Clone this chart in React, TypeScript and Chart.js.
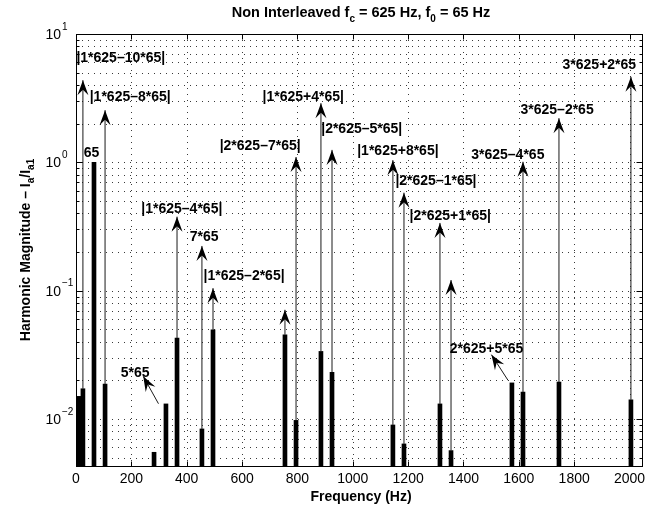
import React, { useEffect, useRef } from "react";
import { Chart, registerables } from "chart.js";

Chart.register(...registerables);

const FONT = "'Liberation Sans', Arial, Helvetica, sans-serif";

// Spectral lines: frequency (Hz) and normalised magnitude I_a / I_a1
const FREQS = [10, 25, 65, 105, 282, 325, 365, 455, 495, 755, 795, 885, 925, 1145, 1185, 1315, 1355, 1575, 1615, 1745, 2005];
const MAGNITUDES = [0.015, 0.0172, 1.0, 0.0187, 0.0055, 0.0131, 0.0427, 0.00836, 0.0495, 0.0453, 0.00975, 0.0336, 0.0231, 0.00898, 0.00639, 0.0131, 0.00567, 0.0191, 0.0162, 0.0194, 0.0141];

// Axis limits and ticks
const X_MIN = 0;
const X_MAX = 2045;
const Y_MIN = 0.0043;
const Y_MAX = 10;
const X_TICKS = [0, 200, 400, 600, 800, 1000, 1200, 1400, 1600, 1800, 2000];
const Y_DECADES = [-2, -1, 0, 1];

// Vertical arrows: rise from the top of the line at ARROW_FREQS up to ARROW_TIPS
const ARROW_FREQS = [25, 105, 365, 455, 495, 755, 795, 885, 925, 1145, 1185, 1315, 1355, 1615, 1745, 2005];
const ARROW_TIPS = [4.37, 2.55, 0.377, 0.223, 0.1046, 0.0709, 1.1, 2.89, 1.25, 1.04, 0.58, 0.337, 0.121, 1.01, 2.21, 4.64];

// Slanted arrows: [Hz, magnitude] of tail and head
const SLANT_TAILS = [[298, 0.01315], [1561, 0.02]];
const SLANT_HEADS = [[243, 0.0215], [1501, 0.0317]];

// Text labels: left edge (Hz) and vertical centre (magnitude)
const LABEL_TEXTS = [
  "|1*625\u201310*65|", "|1*625\u20138*65|", "65", "|1*625\u20134*65|", "7*65", "|1*625\u20132*65|",
  "|2*625\u20137*65|", "|1*625+4*65|", "|2*625\u20135*65|", "|1*625+8*65|", "|2*625\u20131*65|",
  "|2*625+1*65|", "2*625+5*65", "3*625\u20134*65", "3*625\u20132*65", "3*625+2*65", "5*65",
];
const LABEL_FREQS = [1.4, 49.5, 27.8, 236, 410.7, 461, 519, 674, 886, 1016, 1154, 1205, 1350, 1428, 1606, 1758, 161.5];
const LABEL_LEVELS = [6.48, 3.24, 1.18, 0.433, 0.262, 0.13, 1.34, 3.24, 1.82, 1.23, 0.715, 0.384, 0.0352, 1.14, 2.55, 5.71, 0.0228];

type Seg = { t: string; dy?: number; size?: number };

function drawSegments(ctx: CanvasRenderingContext2D, segs: Seg[], x: number, y: number, align: string, weight: string, size: number) {
  let total = 0;
  const widths: number[] = [];
  for (const s of segs) {
    ctx.font = `${weight} ${s.size ?? size}px ${FONT}`;
    const w = ctx.measureText(s.t).width;
    widths.push(w);
    total += w;
  }
  let cx = align === "center" ? x - total / 2 : align === "right" ? x - total : x;
  ctx.textAlign = "left";
  segs.forEach((s, i) => {
    ctx.font = `${weight} ${s.size ?? size}px ${FONT}`;
    ctx.fillText(s.t, cx, y + (s.dy ?? 0));
    cx += widths[i];
  });
}

function drawArrow(ctx: CanvasRenderingContext2D, x0: number, y0: number, x1: number, y1: number) {
  const ang = Math.atan2(y1 - y0, x1 - x0);
  ctx.beginPath();
  ctx.moveTo(x0, y0);
  ctx.lineTo(x1, y1);
  ctx.stroke();
  ctx.save();
  ctx.translate(x1, y1);
  ctx.rotate(ang);
  ctx.beginPath();
  ctx.moveTo(0, 0);
  ctx.lineTo(-15, -5.5);
  ctx.lineTo(-9.5, 0);
  ctx.lineTo(-15, 5.5);
  ctx.closePath();
  ctx.fill();
  ctx.restore();
}

function minorLevels(): number[] {
  const out: number[] = [];
  for (let k = -3; k <= 1; k++) {
    for (let m = 1; m <= 9; m++) {
      const v = m * Math.pow(10, k);
      if (v > Y_MIN && v <= Y_MAX) out.push(v);
    }
  }
  return out;
}

const spectrumDecor = {
  id: "spectrumDecor",
  beforeDatasetsDraw(chart: any) {
    const { ctx, chartArea: a, scales } = chart;
    const xs = scales.x;
    const ys = scales.y;
    ctx.save();
    ctx.strokeStyle = "#3a3a3a";
    ctx.lineWidth = 1;
    ctx.setLineDash([1, 5]);
    for (const t of X_TICKS) {
      if (t <= X_MIN) continue;
      const px = Math.round(xs.getPixelForValue(t)) + 0.5;
      ctx.beginPath();
      ctx.moveTo(px, a.top);
      ctx.lineTo(px, a.bottom);
      ctx.stroke();
    }
    for (const v of minorLevels()) {
      if (v >= Y_MAX) continue;
      const py = Math.round(ys.getPixelForValue(v)) + 0.5;
      ctx.beginPath();
      ctx.moveTo(a.left, py);
      ctx.lineTo(a.right, py);
      ctx.stroke();
    }
    ctx.restore();
  },
  afterDatasetsDraw(chart: any) {
    const { ctx, scales } = chart;
    const xs = scales.x;
    const ys = scales.y;
    ctx.save();
    ctx.strokeStyle = "#1a1a1a";
    ctx.fillStyle = "#000";
    ctx.lineWidth = 1;
    ARROW_FREQS.forEach((f, i) => {
      const base = MAGNITUDES[FREQS.indexOf(f)];
      const px = xs.getPixelForValue(f);
      drawArrow(ctx, px, ys.getPixelForValue(base), px, ys.getPixelForValue(ARROW_TIPS[i]));
    });
    SLANT_TAILS.forEach((tail, i) => {
      const head = SLANT_HEADS[i];
      drawArrow(ctx, xs.getPixelForValue(tail[0]), ys.getPixelForValue(tail[1]), xs.getPixelForValue(head[0]), ys.getPixelForValue(head[1]));
    });
    ctx.textBaseline = "middle";
    ctx.textAlign = "left";
    ctx.font = `bold 14px ${FONT}`;
    LABEL_TEXTS.forEach((txt, i) => {
      ctx.fillText(txt, xs.getPixelForValue(LABEL_FREQS[i]), ys.getPixelForValue(LABEL_LEVELS[i]));
    });
    ctx.restore();
  },
  afterDraw(chart: any) {
    const { ctx, chartArea: a, scales } = chart;
    const xs = scales.x;
    const ys = scales.y;
    ctx.save();
    ctx.strokeStyle = "#000";
    ctx.fillStyle = "#000";
    ctx.lineWidth = 1;
    ctx.setLineDash([]);
    const L = Math.round(a.left) + 0.5;
    const R = Math.round(a.right) + 0.5;
    const T = Math.round(a.top) + 0.5;
    const B = Math.round(a.bottom) + 0.5;
    ctx.strokeRect(L, T, R - L, B - T);

    // x ticks (inside, bottom and top)
    ctx.beginPath();
    for (const t of X_TICKS) {
      const px = Math.round(xs.getPixelForValue(t)) + 0.5;
      ctx.moveTo(px, B);
      ctx.lineTo(px, B - 5);
      ctx.moveTo(px, T);
      ctx.lineTo(px, T + 5);
    }
    // y ticks (inside, left and right)
    for (const v of minorLevels()) {
      const py = Math.round(ys.getPixelForValue(v)) + 0.5;
      const major = Math.abs(Math.log10(v) - Math.round(Math.log10(v))) < 1e-9;
      const len = major ? 6 : 3;
      ctx.moveTo(L, py);
      ctx.lineTo(L + len, py);
      ctx.moveTo(R, py);
      ctx.lineTo(R - len, py);
    }
    ctx.stroke();

    // tick labels
    ctx.textBaseline = "middle";
    ctx.textAlign = "center";
    ctx.font = `14px ${FONT}`;
    for (const t of X_TICKS) {
      ctx.fillText(String(t), xs.getPixelForValue(t), a.bottom + 13);
    }
    for (const d of Y_DECADES) {
      const py = ys.getPixelForValue(Math.pow(10, d));
      ctx.textAlign = "right";
      ctx.font = `14px ${FONT}`;
      ctx.fillText("10", a.left - 15, py + 1);
      ctx.textAlign = "left";
      ctx.font = `10px ${FONT}`;
      ctx.fillText(d < 0 ? "\u2212" + Math.abs(d) : String(d), a.left - 14, py - 7);
    }

    // title
    ctx.textBaseline = "middle";
    const cx = (a.left + a.right) / 2 + 2;
    drawSegments(
      ctx,
      [
        { t: "Non Interleaved f" },
        { t: "c", dy: 6, size: 10 },
        { t: " = 625 Hz, f" },
        { t: "0", dy: 6, size: 10 },
        { t: " = 65 Hz" },
      ],
      cx,
      13,
      "center",
      "bold",
      14.5
    );

    // x axis title
    ctx.textAlign = "center";
    ctx.font = `bold 14px ${FONT}`;
    ctx.fillText("Frequency (Hz)", cx, 497);

    // y axis title
    ctx.save();
    ctx.translate(30, (a.top + a.bottom) / 2);
    ctx.rotate(-Math.PI / 2);
    ctx.textBaseline = "alphabetic";
    drawSegments(
      ctx,
      [
        { t: "Harmonic Magnitude \u2013 I" },
        { t: "a", dy: 4, size: 10 },
        { t: "/I" },
        { t: "a1", dy: 4, size: 10 },
      ],
      0,
      0,
      "center",
      "bold",
      14
    );
    ctx.restore();
    ctx.restore();
  },
};

export default function App() {
  const ref = useRef<HTMLCanvasElement | null>(null);

  useEffect(() => {
    if (!ref.current) return;
    const chart = new Chart(ref.current, {
      type: "bar",
      data: {
        datasets: [
          {
            data: FREQS.map((f, i) => ({ x: f, y: MAGNITUDES[i] })),
            backgroundColor: "#000",
            borderWidth: 0,
            barThickness: 4,
          },
        ],
      },
      options: {
        animation: false,
        responsive: false,
        devicePixelRatio: 1,
        layout: { padding: { left: 76, right: 23, top: 34, bottom: 44 } },
        plugins: { legend: { display: false }, tooltip: { enabled: false }, title: { display: false } },
        scales: {
          x: { type: "linear", min: X_MIN, max: X_MAX, offset: false, display: false, bounds: "data" },
          y: { type: "logarithmic", min: Y_MIN, max: Y_MAX, display: false, bounds: "data" },
        },
      },
      plugins: [spectrumDecor],
    } as any);
    return () => chart.destroy();
  }, []);

  return (
    <div style={{ position: "fixed", left: 0, top: 0, width: 665, height: 510, background: "#fff" }}>
      <canvas ref={ref} width={665} height={510} style={{ display: "block" }} />
    </div>
  );
}
